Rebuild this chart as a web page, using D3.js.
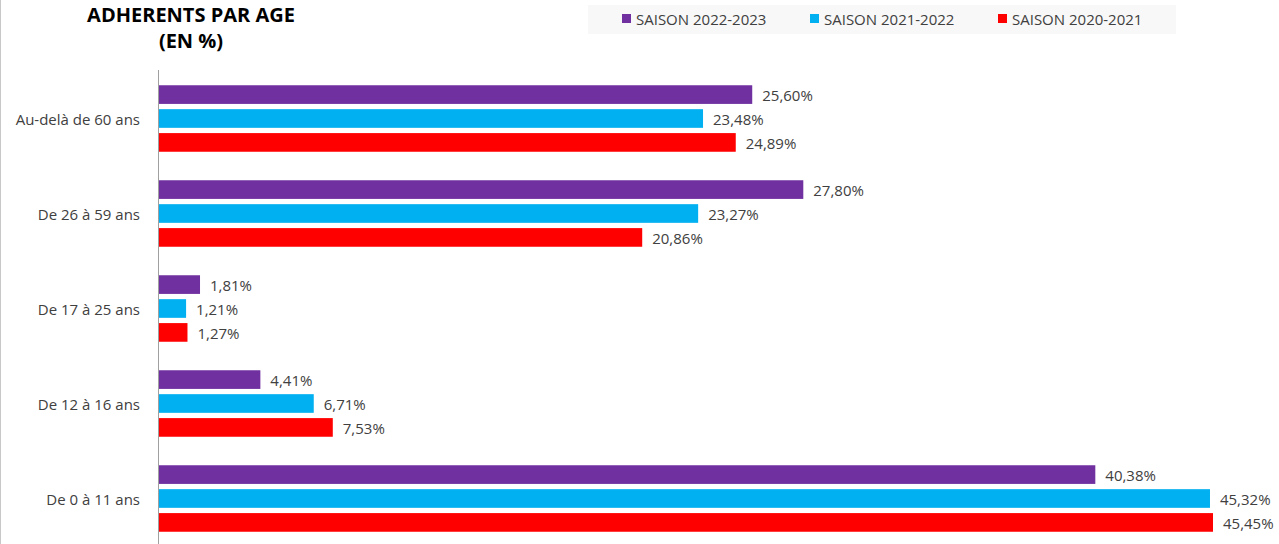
<!DOCTYPE html>
<html>
<head>
<meta charset="utf-8">
<script src="https://cdn.jsdelivr.net/npm/d3@7"></script>
<style>
	body { margin: 0; background: #fff; }
	svg { display: block; font-family: "Open Sans", sans-serif; }
</style>
</head>
<body>
<div id="chart"></div>
<script>
// categories from top to bottom
var categories = ["Au-delà de 60 ans", "De 26 à 59 ans", "De 17 à 25 ans", "De 12 à 16 ans", "De 0 à 11 ans"]
var seasons = ["SAISON 2022-2023", "SAISON 2021-2022", "SAISON 2020-2021"]
var colors = ["#7030A0", "#00B0F0", "#FF0000"]
var values2223 = [25.60, 27.80, 1.81, 4.41, 40.38]
var values2122 = [23.48, 23.27, 1.21, 6.71, 45.32]
var values2021 = [24.89, 20.86, 1.27, 7.53, 45.45]
var seriesValues = [values2223, values2122, values2021]

var width = 1279, height = 544
var margin = {top: 71, right: 66, bottom: -2, left: 158}
var fontSize = 15

var svg = d3.select("#chart")
	.append("svg")
	.attr("width", width)
	.attr("height", height)

// left border of chart frame
svg.append("line")
	.attr("x1", 0.5).attr("x2", 0.5)
	.attr("y1", 0).attr("y2", height)
	.attr("stroke", "#c8c8c8")

// title
var title = svg.append("text")
	.attr("text-anchor", "middle")
	.attr("font-weight", "bold")
	.attr("font-size", 20)
	.attr("fill", "#000")
title.append("tspan").attr("x", 191).attr("y", 22).text("ADHERENTS PAR AGE")
title.append("tspan").attr("x", 191).attr("y", 48).text("(EN %)")

// legend
var legend = svg.append("g")
legend.append("rect")
	.attr("x", 588).attr("y", 5)
	.attr("width", 588).attr("height", 29)
	.attr("fill", "#f8f8f8")
var legendX = [622, 810, 998]
seasons.forEach(function(s, i) {
	legend.append("rect")
		.attr("x", legendX[i]).attr("y", 14)
		.attr("width", 9).attr("height", 9)
		.attr("fill", colors[i])
	legend.append("text")
		.attr("x", legendX[i] + 14).attr("y", 24.5)
		.attr("font-size", fontSize)
		.attr("fill", "#404040")
		.text(s)
})

var x = d3.scaleLinear()
	.domain([0, 45.45])
	.range([margin.left, 1213])

var y = d3.scaleBand()
	.domain(categories)
	.range([margin.top, height - margin.bottom])
	.paddingInner(0.3)
	.paddingOuter(0.15)

var ySub = d3.scaleBand()
	.domain(d3.range(seasons.length))
	.range([0, y.bandwidth()])
	.paddingInner(0.22)

var fmt = function(v) { return v.toFixed(2).replace(".", ",") + "%" }

var groups = svg.selectAll(".grp")
	.data(categories)
	.enter().append("g")
	.attr("transform", d => `translate(0,${y(d)})`)

seriesValues.forEach(function(vals, s) {
	groups.append("rect")
		.attr("x", x(0))
		.attr("y", ySub(s))
		.attr("width", (d, i) => x(vals[i]) - x(0))
		.attr("height", ySub.bandwidth())
		.attr("fill", colors[s])
	groups.append("text")
		.attr("x", (d, i) => x(vals[i]) + 10)
		.attr("y", ySub(s) + ySub.bandwidth() / 2 + 1)
		.attr("dy", "0.35em")
		.attr("font-size", fontSize)
		.attr("fill", "#404040")
		.text((d, i) => fmt(vals[i]))
})

// category labels
svg.append("g")
	.selectAll("text")
	.data(categories)
	.enter().append("text")
	.attr("x", 140)
	.attr("y", d => y(d) + y.bandwidth() / 2 + 1)
	.attr("dy", "0.35em")
	.attr("text-anchor", "end")
	.attr("font-size", fontSize)
	.attr("fill", "#404040")
	.text(d => d)

// vertical axis line
svg.append("line")
	.attr("x1", margin.left + 0.5).attr("x2", margin.left + 0.5)
	.attr("y1", 70).attr("y2", height)
	.attr("stroke", "#a0a0a0")
</script>
</body>
</html>
